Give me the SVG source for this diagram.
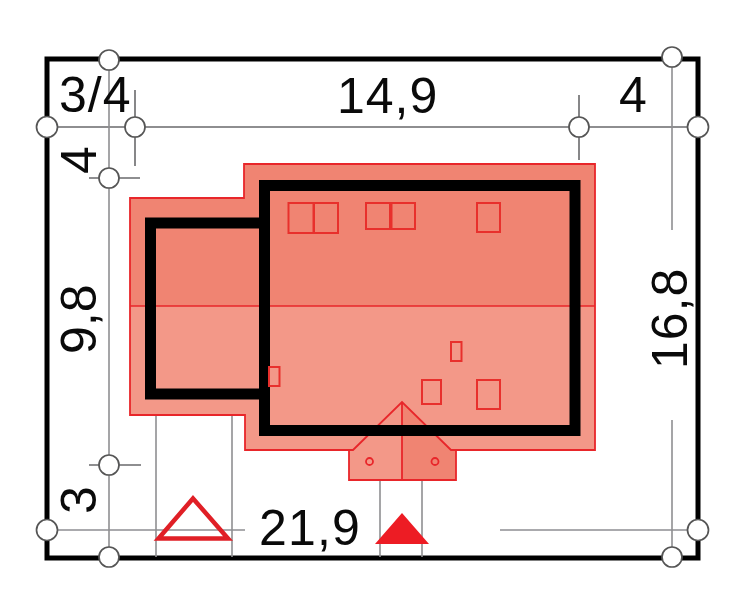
<svg xmlns="http://www.w3.org/2000/svg" width="744" height="610" viewBox="0 0 744 610">
<style>
.dim{stroke:#8f8f92;stroke-width:1.6;fill:none}
.dk{stroke:#6a6a6c;stroke-width:1.6;fill:none}
.wall{stroke:#000;stroke-width:11;fill:none;stroke-linejoin:miter}
.r{stroke:#e8262a;stroke-width:1.8;fill:none}
.rr{stroke:#e8302c;stroke-width:2;fill:none}
.c{fill:#fff;stroke:#555;stroke-width:1.7}
text{font-family:"Liberation Sans",Arial,sans-serif;fill:#0a0a0a;font-size:50px}
</style>
<rect width="744" height="610" fill="#fff"/>
<rect id="plot" x="47" y="59" width="651" height="499" fill="none" stroke="#000" stroke-width="5"/>
<g id="connectors">
<path class="dk" d="M47 127H698M135 90V166M579 95V160M89 178H140M89 465H141"/>
<path class="dim" d="M109 60V557M672 57V230M672 420V557M47 530H245M500 530H698M156 415V557M232 415V557M380 480V557M422 480V557"/>
</g>
<g id="roof">
<path d="M130 198H244V164H595V306H130Z" fill="#f08472"/>
<path d="M130 306H595V450H245V415H130Z" fill="#f39888"/>
<path class="r" d="M130 415V198H244V164H595V450H245V415Z"/>
<path d="M130 306H595" stroke="#e8262a" stroke-width="1.5"/>
</g>
<g id="porch">
<path d="M402 402L353 450H349V480H402Z" fill="#f39888"/>
<path d="M402 402L451 450H456V480H402Z" fill="#f08472"/>
<path class="r" d="M353 450L402 402L451 450H456V480H349V450ZM402 402V480"/>
<circle class="r" cx="369.500" cy="461.500" r="3.500"/>
<circle class="r" cx="435" cy="461.500" r="3.500"/>
</g>
<g id="walls">
<path class="wall" d="M264.500 185.500H575V430.500H264.500Z"/>
<path class="wall" d="M269 223H150.500V394H264"/>
</g>
<g id="skylights">
<rect class="rr" x="288.500" y="203" width="25" height="30"/>
<rect class="rr" x="314" y="203" width="24" height="30"/>
<rect class="rr" x="366" y="203" width="24" height="26"/>
<rect class="rr" x="391.500" y="203" width="23.500" height="26"/>
<rect class="rr" x="477" y="203" width="23" height="29"/>
<rect class="rr" x="451" y="342" width="10.500" height="19"/>
<rect class="rr" x="422" y="380" width="19" height="24"/>
<rect class="rr" x="477" y="380" width="23" height="29"/>
<rect class="rr" x="269" y="367" width="10.500" height="19"/>
</g>
<g id="markers">
<path d="M193 498.500L228 538.500H158.500Z" fill="none" stroke="#e01f26" stroke-width="4.500"/>
<path d="M402 513L429 544H375Z" fill="#ed1c24"/>
</g>
<g id="handles">
<circle class="c" cx="109" cy="60" r="10"/>
<circle class="c" cx="672" cy="57" r="10"/>
<circle class="c" cx="47" cy="127" r="10.500"/>
<circle class="c" cx="135" cy="127" r="10"/>
<circle class="c" cx="579" cy="127" r="10"/>
<circle class="c" cx="698" cy="127" r="10.500"/>
<circle class="c" cx="109" cy="178" r="10"/>
<circle class="c" cx="109" cy="465" r="10"/>
<circle class="c" cx="47" cy="530" r="10.500"/>
<circle class="c" cx="698" cy="530" r="10.500"/>
<circle class="c" cx="109" cy="557" r="10"/>
<circle class="c" cx="672" cy="557" r="10"/>
</g>
<g id="labels">
<text x="59" y="112" letter-spacing="1">3/4</text>
<text x="337" y="113" letter-spacing="1">14,9</text>
<text x="619" y="112">4</text>
<text x="259" y="545" letter-spacing="1.200">21,9</text>
<text transform="translate(96 174) rotate(-90)">4</text>
<text transform="translate(96 354) rotate(-90)">9,8</text>
<text transform="translate(96 514) rotate(-90)">3</text>
<text transform="translate(687 369) rotate(-90)" letter-spacing="1">16,8</text>
</g>
</svg>
